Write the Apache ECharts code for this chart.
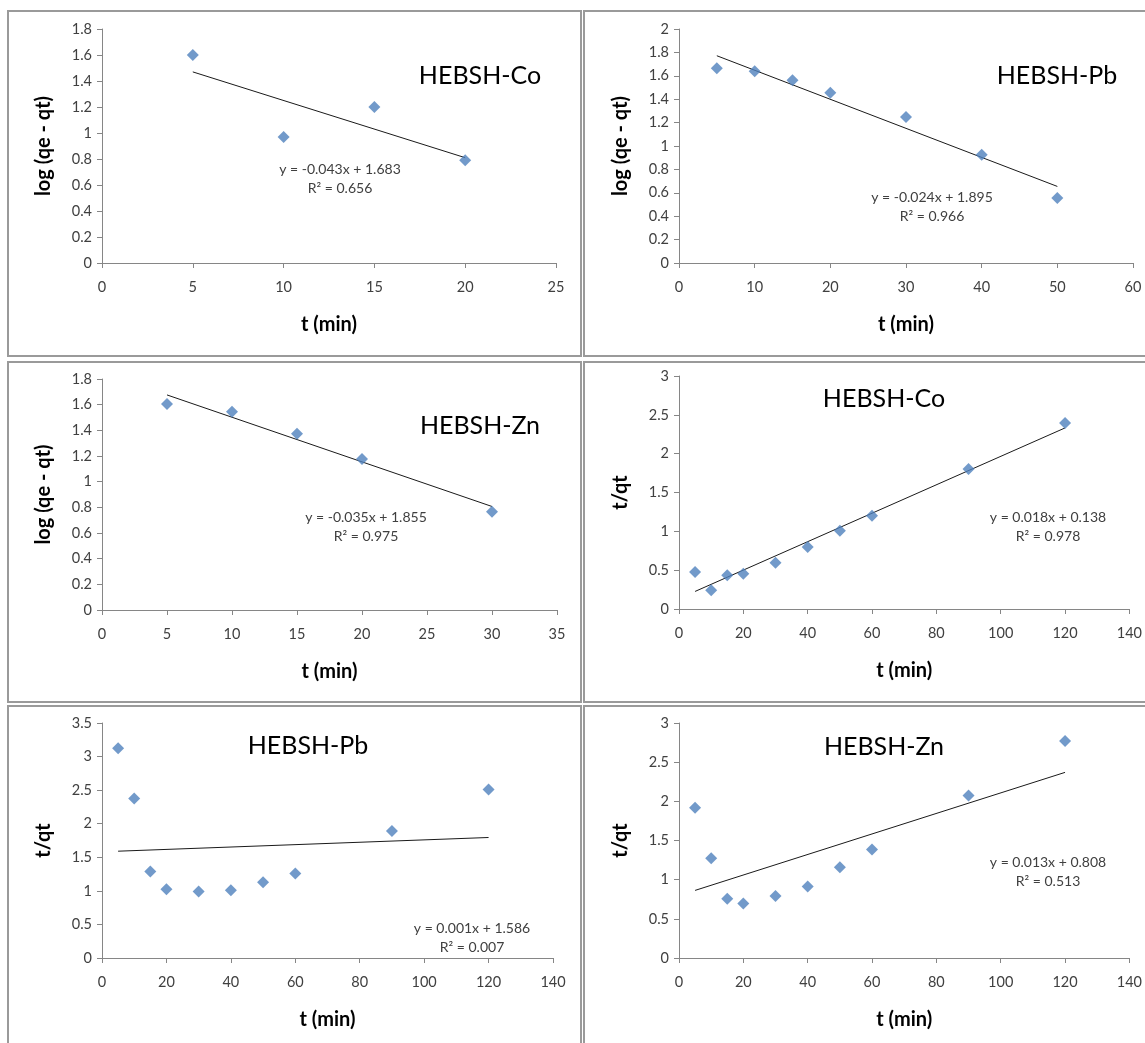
<!DOCTYPE html>
<html><head><meta charset="utf-8">
<script src="https://cdn.jsdelivr.net/npm/echarts@6/dist/echarts.min.js"></script>
<style>html,body{margin:0;padding:0;background:#fff}#c{width:1145px;height:1043px}</style>
</head><body><div id="c"></div><script>
// ---- data ----
const tCoLog = [5, 10, 15, 20];
const logCo = [1.60, 0.97, 1.20, 0.79];
const tPbLog = [5, 10, 15, 20, 30, 40, 50];
const logPb = [1.664, 1.638, 1.561, 1.456, 1.248, 0.926, 0.556];
const tZnLog = [5, 10, 15, 20, 30];
const logZn = [1.605, 1.545, 1.374, 1.177, 0.766];
const tSecond = [5, 10, 15, 20, 30, 40, 50, 60, 90, 120];
const tqCo = [0.476, 0.240, 0.433, 0.454, 0.595, 0.797, 1.007, 1.200, 1.804, 2.396];
const tqPb = [3.124, 2.377, 1.287, 1.025, 0.990, 1.010, 1.129, 1.257, 1.891, 2.510];
const tqZn = [1.919, 1.272, 0.757, 0.697, 0.791, 0.914, 1.157, 1.386, 2.076, 2.770];
const panelLabels = ['HEBSH-Co', 'HEBSH-Pb', 'HEBSH-Zn', 'HEBSH-Co', 'HEBSH-Pb', 'HEBSH-Zn'];
const equations = ['y = -0.043x + 1.683', 'y = -0.024x + 1.895', 'y = -0.035x + 1.855',
                   'y = 0.018x + 0.138', 'y = 0.001x + 1.586', 'y = 0.013x + 0.808'];
const rSquared = ['R² = 0.656', 'R² = 0.966', 'R² = 0.975', 'R² = 0.978', 'R² = 0.007', 'R² = 0.513'];
const yTitles = ['log (qe - qt)', 'log (qe - qt)', 'log (qe - qt)', 't/qt', 't/qt', 't/qt'];
const xTitle = 't (min)';

// ---- layout ----
const FONT = 'Lato, "Open Sans", sans-serif';
const panels = [
  {t: tCoLog, y: logCo, grid: {left: 102, top: 29, width: 454, height: 234}, x: [0, 25, 5], yr: [0, 1.8, 0.2],
   lab: [480, 76], eq: [340, 169]},
  {t: tPbLog, y: logPb, grid: {left: 679, top: 29, width: 454, height: 234}, x: [0, 60, 10], yr: [0, 2, 0.2],
   lab: [1057, 76], eq: [932, 197]},
  {t: tZnLog, y: logZn, grid: {left: 102, top: 379, width: 455, height: 231}, x: [0, 35, 5], yr: [0, 1.8, 0.2],
   lab: [480, 426], eq: [366, 517]},
  {t: tSecond, y: tqCo, grid: {left: 679, top: 376, width: 451, height: 233}, x: [0, 140, 20], yr: [0, 3, 0.5],
   lab: [884, 399], eq: [1048, 517]},
  {t: tSecond, y: tqPb, grid: {left: 102, top: 723, width: 451, height: 235}, x: [0, 140, 20], yr: [0, 3.5, 0.5],
   lab: [308, 746], eq: [472, 928]},
  {t: tSecond, y: tqZn, grid: {left: 679, top: 723, width: 451, height: 235}, x: [0, 140, 20], yr: [0, 3, 0.5],
   lab: [884, 747], eq: [1048, 862]}
];
const borders = [[8, 11, 573, 345], [584, 11, 570, 345], [8, 362, 573, 340], [584, 362, 570, 340],
                 [8, 706, 573, 345], [584, 706, 570, 345]];

function fit(xs, ys) {
  const n = xs.length;
  const mx = xs.reduce((a, b) => a + b, 0) / n, my = ys.reduce((a, b) => a + b, 0) / n;
  let sxy = 0, sxx = 0;
  for (let i = 0; i < n; i++) { sxy += (xs[i] - mx) * (ys[i] - my); sxx += (xs[i] - mx) ** 2; }
  const b = sxy / sxx; return [my - b * mx, b];
}

const axisLine = {lineStyle: {color: '#868686', width: 1}};
const grids = [], xAxes = [], yAxes = [], series = [], graphics = [];
panels.forEach((p, i) => {
  grids.push(Object.assign({containLabel: false}, p.grid));
  xAxes.push({type: 'value', gridIndex: i, min: p.x[0], max: p.x[1], interval: p.x[2],
    splitLine: {show: false}, axisLine: axisLine, axisTick: {show: true, length: 5, lineStyle: {color: '#868686'}},
    axisLabel: {color: '#404040', fontSize: 14.5, fontFamily: FONT, margin: 17},
    name: xTitle, nameLocation: 'middle', nameGap: 52,
    nameTextStyle: {color: '#000', fontSize: 20, fontWeight: 'bold', fontFamily: FONT}});
  yAxes.push({type: 'value', gridIndex: i, min: p.yr[0], max: p.yr[1], interval: p.yr[2],
    splitLine: {show: false}, axisLine: Object.assign({show: true}, axisLine),
    axisTick: {show: true, length: 5, lineStyle: {color: '#868686'}},
    axisLabel: {color: '#404040', fontSize: 14.5, fontFamily: FONT, margin: 10},
    name: yTitles[i], nameLocation: 'middle', nameGap: 48, nameRotate: 90,
    nameTextStyle: {color: '#000', fontSize: 20, fontWeight: 'bold', fontFamily: FONT}});
  series.push({type: 'scatter', xAxisIndex: i, yAxisIndex: i, symbol: 'diamond', symbolSize: 12,
    itemStyle: {color: '#4F81BD'}, data: p.t.map((t, k) => [t, p.y[k]]), z: 3});
  const [a, b] = fit(p.t, p.y);
  const t0 = Math.min(...p.t), t1 = Math.max(...p.t);
  series.push({type: 'line', xAxisIndex: i, yAxisIndex: i, showSymbol: false, silent: true,
    lineStyle: {color: '#1a1a1a', width: 1}, data: [[t0, a + b * t0], [t1, a + b * t1]], z: 2});
  graphics.push({type: 'text', x: p.lab[0], y: p.lab[1], style: {text: panelLabels[i],
    font: '25px ' + FONT, fill: '#000', align: 'center', verticalAlign: 'middle'}});
  graphics.push({type: 'text', x: p.eq[0], y: p.eq[1], style: {text: equations[i],
    font: '14px ' + FONT, fill: '#404040', align: 'center', verticalAlign: 'middle'}});
  graphics.push({type: 'text', x: p.eq[0], y: p.eq[1] + 19, style: {text: rSquared[i],
    font: '14px ' + FONT, fill: '#404040', align: 'center', verticalAlign: 'middle'}});
});
borders.forEach(b => {
  graphics.push({type: 'rect', shape: {x: b[0], y: b[1], width: b[2], height: b[3]},
    style: {fill: 'none', stroke: '#9a9a9a', lineWidth: 2}, silent: true, z: -1});
});

const chart = echarts.init(document.getElementById('c'), null, {renderer: 'canvas'});
chart.setOption({animation: false, backgroundColor: '#fff', grid: grids, xAxis: xAxes, yAxis: yAxes,
  series: series, graphic: graphics});
</script></body></html>
